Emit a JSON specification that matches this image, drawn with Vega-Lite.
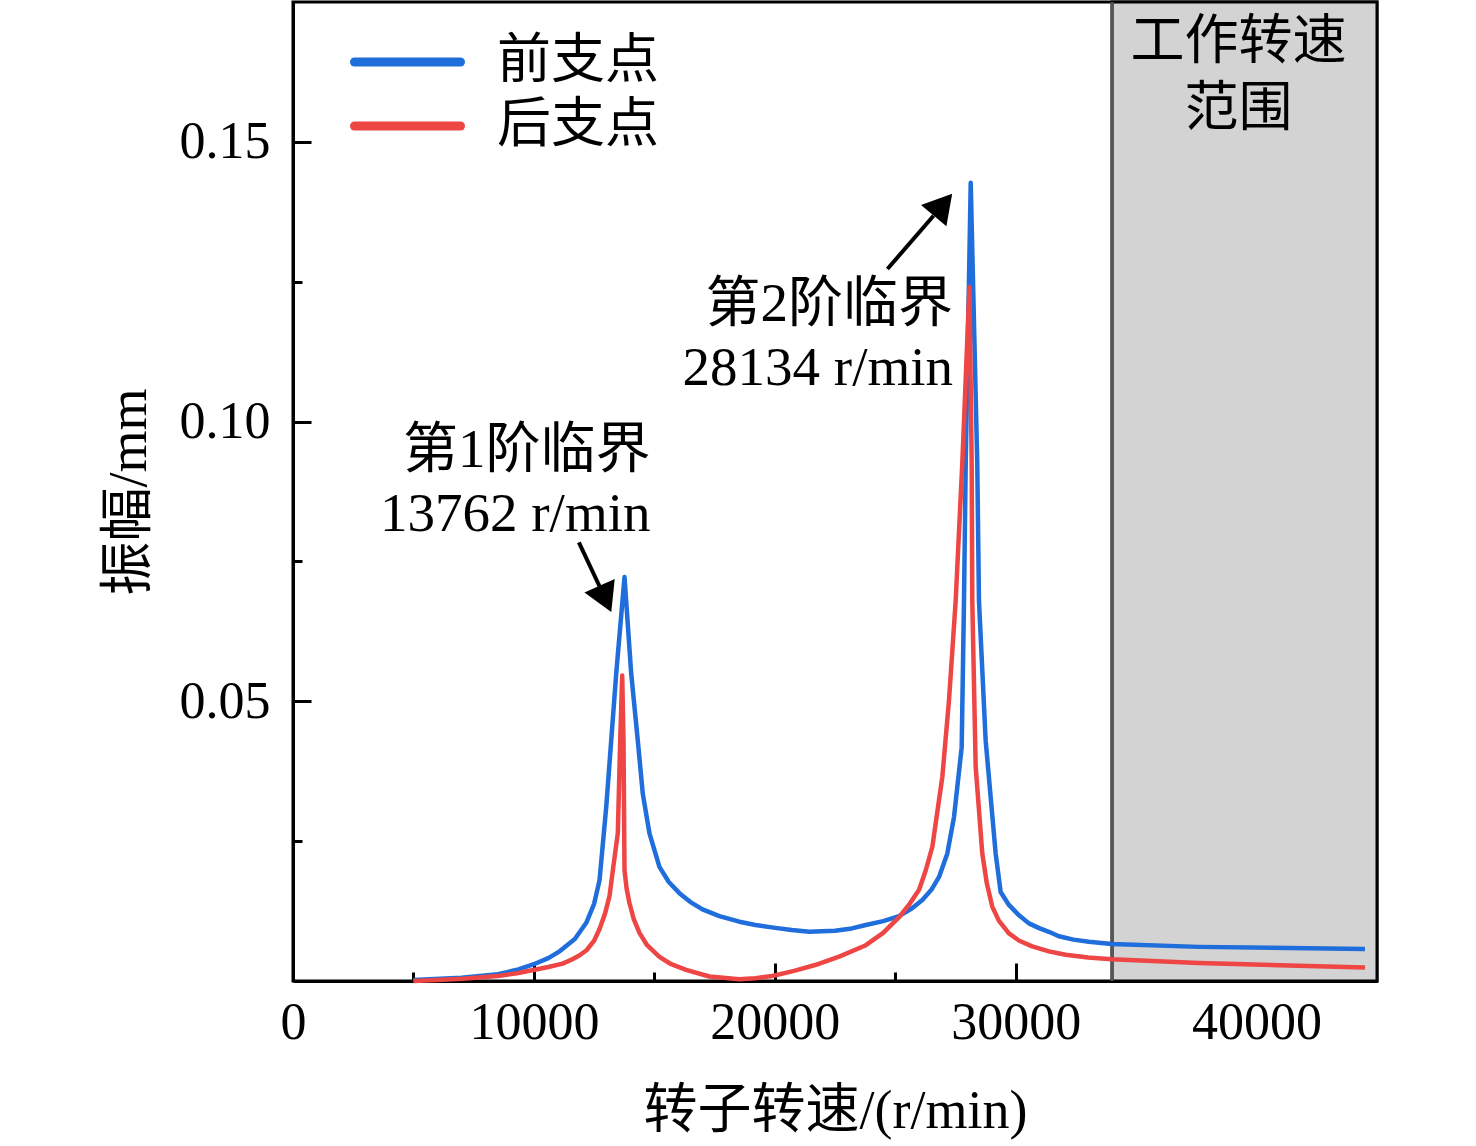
{
  "$schema": "https://vega.github.io/schema/vega-lite/v6.json",
  "width": 1084,
  "height": 979,
  "autosize": {"type": "none"},
  "padding": {"left": 293, "top": 2, "right": 99, "bottom": 165},
  "background": "white",
  "config": {
    "view": {"stroke": "black", "strokeWidth": 3},
    "font": "'Liberation Serif', 'Noto Sans CJK SC'",
    "axis": {
      "labelFont": "'Liberation Serif', 'Noto Sans CJK SC'",
      "titleFont": "'Liberation Serif', 'Noto Sans CJK SC'",
      "labelFontSize": 52,
      "titleFontSize": 54,
      "labelColor": "black",
      "titleColor": "black",
      "titleFontWeight": "normal",
      "domainColor": "black",
      "domainWidth": 3,
      "tickColor": "black",
      "tickWidth": 3,
      "grid": false,
      "labelFlush": false,
      "zindex": 1
    }
  },
  "datasets": {
    "curves": [
      {"rpm": 5000, "amp": 0.0002, "support": "前支点"},
      {"rpm": 7000, "amp": 0.0006, "support": "前支点"},
      {"rpm": 8500, "amp": 0.0012, "support": "前支点"},
      {"rpm": 9300, "amp": 0.002, "support": "前支点"},
      {"rpm": 10000, "amp": 0.003, "support": "前支点"},
      {"rpm": 10600, "amp": 0.0041, "support": "前支点"},
      {"rpm": 11067, "amp": 0.0053, "support": "前支点"},
      {"rpm": 11700, "amp": 0.0075, "support": "前支点"},
      {"rpm": 12174, "amp": 0.0104, "support": "前支点"},
      {"rpm": 12500, "amp": 0.0138, "support": "前支点"},
      {"rpm": 12725, "amp": 0.018, "support": "前支点"},
      {"rpm": 13003, "amp": 0.0311, "support": "前支点"},
      {"rpm": 13210, "amp": 0.043, "support": "前支点"},
      {"rpm": 13418, "amp": 0.055, "support": "前支点"},
      {"rpm": 13762, "amp": 0.0722, "support": "前支点"},
      {"rpm": 14039, "amp": 0.055, "support": "前支点"},
      {"rpm": 14313, "amp": 0.043, "support": "前支点"},
      {"rpm": 14520, "amp": 0.0335, "support": "前支点"},
      {"rpm": 14798, "amp": 0.0264, "support": "前支点"},
      {"rpm": 15212, "amp": 0.0204, "support": "前支点"},
      {"rpm": 15600, "amp": 0.0177, "support": "前支点"},
      {"rpm": 16041, "amp": 0.0157, "support": "前支点"},
      {"rpm": 16500, "amp": 0.0141, "support": "前支点"},
      {"rpm": 17000, "amp": 0.0128, "support": "前支点"},
      {"rpm": 17700, "amp": 0.0116, "support": "前支点"},
      {"rpm": 18528, "amp": 0.0106, "support": "前支点"},
      {"rpm": 19200, "amp": 0.01, "support": "前支点"},
      {"rpm": 20021, "amp": 0.0095, "support": "前支点"},
      {"rpm": 20700, "amp": 0.0091, "support": "前支点"},
      {"rpm": 21430, "amp": 0.0088, "support": "前支点"},
      {"rpm": 22500, "amp": 0.009, "support": "前支点"},
      {"rpm": 23200, "amp": 0.0094, "support": "前支点"},
      {"rpm": 23780, "amp": 0.01, "support": "前支点"},
      {"rpm": 24500, "amp": 0.0107, "support": "前支点"},
      {"rpm": 25161, "amp": 0.0116, "support": "前支点"},
      {"rpm": 25700, "amp": 0.013, "support": "前支点"},
      {"rpm": 26127, "amp": 0.0145, "support": "前支点"},
      {"rpm": 26500, "amp": 0.0163, "support": "前支点"},
      {"rpm": 26819, "amp": 0.0186, "support": "前支点"},
      {"rpm": 27163, "amp": 0.0228, "support": "前支点"},
      {"rpm": 27440, "amp": 0.0293, "support": "前支点"},
      {"rpm": 27759, "amp": 0.0418, "support": "前支点"},
      {"rpm": 27855, "amp": 0.068, "support": "前支点"},
      {"rpm": 27926, "amp": 0.0925, "support": "前支点"},
      {"rpm": 28134, "amp": 0.1427, "support": "前支点"},
      {"rpm": 28406, "amp": 0.0925, "support": "前支点"},
      {"rpm": 28476, "amp": 0.068, "support": "前支点"},
      {"rpm": 28754, "amp": 0.043, "support": "前支点"},
      {"rpm": 29169, "amp": 0.0228, "support": "前支点"},
      {"rpm": 29376, "amp": 0.0159, "support": "前支点"},
      {"rpm": 29720, "amp": 0.0136, "support": "前支点"},
      {"rpm": 30100, "amp": 0.0119, "support": "前支点"},
      {"rpm": 30549, "amp": 0.0103, "support": "前支点"},
      {"rpm": 31000, "amp": 0.0094, "support": "前支点"},
      {"rpm": 31378, "amp": 0.0088, "support": "前支点"},
      {"rpm": 31793, "amp": 0.008, "support": "前支点"},
      {"rpm": 32400, "amp": 0.0074, "support": "前支点"},
      {"rpm": 33036, "amp": 0.007, "support": "前支点"},
      {"rpm": 33990, "amp": 0.0066, "support": "前支点"},
      {"rpm": 37596, "amp": 0.0061, "support": "前支点"},
      {"rpm": 44500, "amp": 0.0057, "support": "前支点"},
      {"rpm": 5000, "amp": 0.0, "support": "后支点"},
      {"rpm": 6000, "amp": 0.0002, "support": "后支点"},
      {"rpm": 7047, "amp": 0.0004, "support": "后支点"},
      {"rpm": 8500, "amp": 0.0009, "support": "后支点"},
      {"rpm": 9300, "amp": 0.0014, "support": "后支点"},
      {"rpm": 10031, "amp": 0.002, "support": "后支点"},
      {"rpm": 10600, "amp": 0.0025, "support": "后支点"},
      {"rpm": 11192, "amp": 0.0031, "support": "后支点"},
      {"rpm": 11600, "amp": 0.0039, "support": "后支点"},
      {"rpm": 11900, "amp": 0.0046, "support": "后支点"},
      {"rpm": 12187, "amp": 0.0055, "support": "后支点"},
      {"rpm": 12500, "amp": 0.0072, "support": "后支点"},
      {"rpm": 12725, "amp": 0.0093, "support": "后支点"},
      {"rpm": 12950, "amp": 0.012, "support": "后支点"},
      {"rpm": 13140, "amp": 0.0152, "support": "后支点"},
      {"rpm": 13300, "amp": 0.0205, "support": "后支点"},
      {"rpm": 13484, "amp": 0.0264, "support": "后支点"},
      {"rpm": 13583, "amp": 0.043, "support": "后支点"},
      {"rpm": 13666, "amp": 0.0546, "support": "后支点"},
      {"rpm": 13720, "amp": 0.043, "support": "后支点"},
      {"rpm": 13762, "amp": 0.0198, "support": "后支点"},
      {"rpm": 13850, "amp": 0.0165, "support": "后支点"},
      {"rpm": 13969, "amp": 0.0139, "support": "后支点"},
      {"rpm": 14150, "amp": 0.011, "support": "后支点"},
      {"rpm": 14383, "amp": 0.0086, "support": "后支点"},
      {"rpm": 14700, "amp": 0.0064, "support": "后支点"},
      {"rpm": 15212, "amp": 0.0043, "support": "后支点"},
      {"rpm": 15700, "amp": 0.003, "support": "后支点"},
      {"rpm": 16319, "amp": 0.002, "support": "后支点"},
      {"rpm": 17285, "amp": 0.0008, "support": "后支点"},
      {"rpm": 18528, "amp": 0.0003, "support": "后支点"},
      {"rpm": 19200, "amp": 0.0005, "support": "后支点"},
      {"rpm": 19896, "amp": 0.0009, "support": "后支点"},
      {"rpm": 20800, "amp": 0.0018, "support": "后支点"},
      {"rpm": 21708, "amp": 0.0029, "support": "后支点"},
      {"rpm": 22700, "amp": 0.0044, "support": "后支点"},
      {"rpm": 23780, "amp": 0.0064, "support": "后支点"},
      {"rpm": 24500, "amp": 0.0086, "support": "后支点"},
      {"rpm": 25161, "amp": 0.0114, "support": "后支点"},
      {"rpm": 25600, "amp": 0.0138, "support": "后支点"},
      {"rpm": 25990, "amp": 0.0163, "support": "后支点"},
      {"rpm": 26268, "amp": 0.0198, "support": "后支点"},
      {"rpm": 26541, "amp": 0.024, "support": "后支点"},
      {"rpm": 26956, "amp": 0.0365, "support": "后支点"},
      {"rpm": 27233, "amp": 0.0502, "support": "后支点"},
      {"rpm": 27510, "amp": 0.068, "support": "后支点"},
      {"rpm": 27784, "amp": 0.0925, "support": "后支点"},
      {"rpm": 28080, "amp": 0.124, "support": "后支点"},
      {"rpm": 28174, "amp": 0.0925, "support": "后支点"},
      {"rpm": 28199, "amp": 0.068, "support": "后支点"},
      {"rpm": 28340, "amp": 0.0383, "support": "后支点"},
      {"rpm": 28614, "amp": 0.0228, "support": "后支点"},
      {"rpm": 28800, "amp": 0.0175, "support": "后支点"},
      {"rpm": 29028, "amp": 0.0133, "support": "后支点"},
      {"rpm": 29300, "amp": 0.0108, "support": "后支点"},
      {"rpm": 29720, "amp": 0.0085, "support": "后支点"},
      {"rpm": 30150, "amp": 0.0072, "support": "后支点"},
      {"rpm": 30687, "amp": 0.0062, "support": "后支点"},
      {"rpm": 31378, "amp": 0.0053, "support": "后支点"},
      {"rpm": 32071, "amp": 0.0047, "support": "后支点"},
      {"rpm": 33000, "amp": 0.0042, "support": "后支点"},
      {"rpm": 33990, "amp": 0.0039, "support": "后支点"},
      {"rpm": 37596, "amp": 0.0032, "support": "后支点"},
      {"rpm": 44500, "amp": 0.0024, "support": "后支点"}
    ],
    "range": [{"start": 34000, "end": 45000}],
    "arrows": [
      {"x": 11867, "y": 0.0784, "x2": 12808, "y2": 0.0698},
      {"x": 24676, "y": 0.12727, "x2": 26591, "y2": 0.13679}
    ],
    "heads": [
      {"x": 12970, "y": 0.0683, "angle": 156},
      {"x": 26981, "y": 0.13877, "angle": 40}
    ],
    "notes": [
      {"x": 14840, "y": 0.09196, "label": "第1阶临界"},
      {"x": 14840, "y": 0.08036, "label": "13762 r/min"},
      {"x": 27400, "y": 0.11804, "label": "第2阶临界"},
      {"x": 27400, "y": 0.1066, "label": "28134 r/min"}
    ],
    "rangeNotes": [
      {"x": 39254, "y": 0.16768, "label": "工作转速"},
      {"x": 39254, "y": 0.15571, "label": "范围"}
    ]
  },
  "layer": [
    {
      "data": {"name": "range"},
      "mark": {"type": "rect", "color": "#d3d3d3", "stroke": "black", "strokeWidth": 3},
      "encoding": {
        "x": {
          "field": "start",
          "type": "quantitative",
          "scale": {"domain": [0, 45000], "nice": false},
          "title": "转子转速/(r/min)",
          "axis": {
            "values": [0, 5000, 10000, 15000, 20000, 25000, 30000, 35000, 40000],
            "labelExpr": "datum.value % 10000 === 0 ? format(datum.value, 'd') : ''",
            "tickSize": {"condition": {"test": "datum.value % 10000 === 0", "value": -18}, "value": -9},
            "labelPadding": 34,
            "titlePadding": 36
          }
        },
        "x2": {"field": "end"}
      }
    },
    {
      "data": {"name": "range"},
      "mark": {"type": "rule", "color": "#555555", "strokeWidth": 3},
      "encoding": {"x": {"field": "start", "type": "quantitative"}}
    },
    {
      "data": {"name": "curves"},
      "mark": {"type": "line", "strokeWidth": 4.5, "strokeJoin": "round"},
      "encoding": {
        "x": {"field": "rpm", "type": "quantitative"},
        "y": {
          "field": "amp",
          "type": "quantitative",
          "scale": {"domain": [0, 0.175], "nice": false},
          "title": "振幅/mm",
          "axis": {
            "values": [0.025, 0.05, 0.075, 0.1, 0.125, 0.15],
            "labelExpr": "round(datum.value * 1000) % 50 === 0 ? format(datum.value, '.2f') : ''",
            "tickSize": {"condition": {"test": "round(datum.value * 1000) % 50 === 0", "value": -18}, "value": -9},
            "labelPadding": 41,
            "titlePadding": 23
          }
        },
        "color": {
          "field": "support",
          "type": "nominal",
          "scale": {"domain": ["前支点", "后支点"], "range": ["#1f6edb", "#ee4545"]},
          "legend": {
            "title": null,
            "orient": "none",
            "legendX": 57,
            "legendY": 34,
            "padding": 0,
            "clipHeight": 52,
            "rowPadding": 10,
            "symbolType": "stroke",
            "symbolSize": 11236,
            "symbolStrokeWidth": 9,
            "labelFont": "'Liberation Serif', 'Noto Sans CJK SC'",
            "labelFontSize": 54,
            "labelColor": "black",
            "labelOffset": 32,
            "labelLimit": 400,
            "encode": {"symbols": {"update": {"strokeCap": {"value": "round"}}}}
          }
        },
        "order": {"field": "rpm", "type": "quantitative"}
      }
    },
    {
      "data": {"name": "arrows"},
      "mark": {"type": "rule", "color": "black", "strokeWidth": 4},
      "encoding": {
        "x": {"field": "x", "type": "quantitative"},
        "y": {"field": "y", "type": "quantitative"},
        "x2": {"field": "x2"},
        "y2": {"field": "y2"}
      }
    },
    {
      "data": {"name": "heads"},
      "mark": {"type": "point", "shape": "triangle-up", "filled": true, "color": "black", "opacity": 1, "size": 1100},
      "encoding": {
        "x": {"field": "x", "type": "quantitative"},
        "y": {"field": "y", "type": "quantitative"},
        "angle": {"field": "angle", "type": "quantitative", "scale": null}
      }
    },
    {
      "data": {"name": "notes"},
      "mark": {"type": "text", "align": "right", "baseline": "alphabetic", "fontSize": 55, "color": "black"},
      "encoding": {
        "x": {"field": "x", "type": "quantitative"},
        "y": {"field": "y", "type": "quantitative"},
        "text": {"field": "label"}
      }
    },
    {
      "data": {"name": "rangeNotes"},
      "mark": {"type": "text", "align": "center", "baseline": "middle", "fontSize": 54, "color": "black"},
      "encoding": {
        "x": {"field": "x", "type": "quantitative"},
        "y": {"field": "y", "type": "quantitative"},
        "text": {"field": "label"}
      }
    }
  ]
}
